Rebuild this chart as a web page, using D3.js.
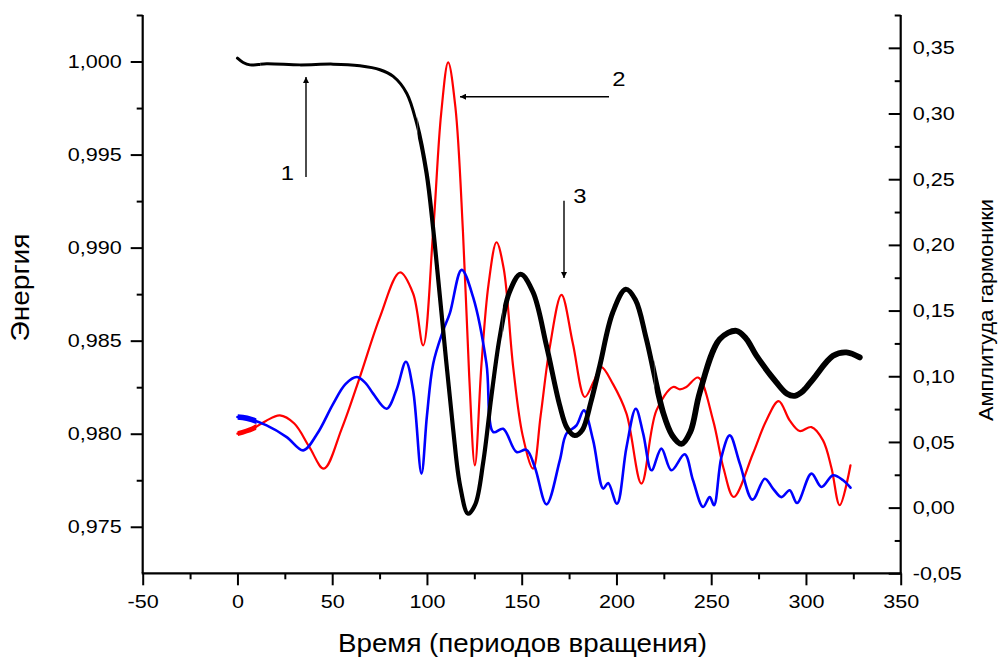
<!DOCTYPE html>
<html><head><meta charset="utf-8">
<script src="https://cdn.jsdelivr.net/npm/d3@7"></script>
<style>
html,body{margin:0;padding:0;background:#fff;}
svg{display:block;font-family:"Liberation Sans",Arial,sans-serif;}
</style></head>
<body><svg id="c" width="998" height="657"></svg>
<script>
// ---- data ----
const blackT = [0, 3, 6.6, 15.4, 33, 50.5, 64.6, 75.2, 82.2, 89.3, 94.5, 99.8, 103.3, 106.8, 113.8, 117.5, 121.7, 125.5, 129.7, 134, 138.5, 143.5, 149.4, 156, 163.1, 170.1, 174, 178, 182, 186.5, 191.2, 198, 204.9, 210, 215.8, 224.6, 229.5, 234.3, 239, 244, 254.5, 263.3, 268.5, 273.9, 284.4, 290, 294.1, 298.5, 303.8, 314.3, 321.4, 328.4];
const blackE = [1.00018, 0.99995, 0.99982, 0.99988, 0.99982, 0.99986, 0.99977, 0.99956, 0.9992, 0.9983, 0.9967, 0.9940, 0.9910, 0.98740, 0.98026, 0.97720, 0.97570, 0.97620, 0.97847, 0.98200, 0.98526, 0.98760, 0.98857, 0.98760, 0.98472, 0.98151, 0.98030, 0.97990, 0.98020, 0.98170, 0.98365, 0.98650, 0.98776, 0.98720, 0.98508, 0.98115, 0.97990, 0.97945, 0.98010, 0.98223, 0.98508, 0.98553, 0.98510, 0.98419, 0.98276, 0.98215, 0.98204, 0.98230, 0.98294, 0.98419, 0.98437, 0.98410];

const redT = [0, 8, 15, 22.4, 30, 38, 45.6, 55, 64.6, 75.2, 85.7, 92.7, 98, 103.3, 107.5, 111.2, 115, 119, 122.3, 125.3, 128.8, 132.5, 136.7, 140.5, 145.5, 150.5, 156, 160, 164.8, 171, 177, 183.3, 188, 192, 198.2, 205.3, 213.2, 221.1, 229.9, 233.5, 236.9, 243.1, 251, 256.5, 261.9, 272, 279.1, 285.6, 291.4, 296.7, 302.9, 309, 313.5, 317.8, 323.5];
const redA = [0.0563, 0.0600, 0.0660, 0.0702, 0.0640, 0.0460, 0.0297, 0.0600, 0.0994, 0.1450, 0.1790, 0.1630, 0.1235, 0.2110, 0.3000, 0.3390, 0.3050, 0.2100, 0.1000, 0.0322, 0.1096, 0.1700, 0.2020, 0.1820, 0.1070, 0.0550, 0.0297, 0.0700, 0.1220, 0.1620, 0.1250, 0.0842, 0.0960, 0.1070, 0.0940, 0.0715, 0.0183, 0.0740, 0.0918, 0.0900, 0.0918, 0.0990, 0.0664, 0.0300, 0.0081, 0.0410, 0.0664, 0.0811, 0.0664, 0.0583, 0.0613, 0.0512, 0.0300, 0.0018, 0.0322];

const blueT = [0, 5, 15.4, 26, 34.7, 42, 50.5, 57, 62.9, 67.5, 71.6, 78.7, 84, 88.9, 92.7, 97.1, 100, 103.3, 108.6, 112.1, 118.3, 124.4, 131.4, 135, 140.2, 147.3, 152.5, 156.9, 163.1, 170.1, 173.6, 178.9, 182.8, 187.7, 193, 195.6, 200.3, 205.3, 210.2, 214.1, 218.5, 223.7, 229, 236, 240.4, 245.7, 249.2, 251.5, 255.4, 259.8, 265.1, 271.8, 278.3, 282.6, 287.1, 291.4, 295.3, 302.9, 308.2, 314.3, 319.6, 323.5];
const blueA = [0.0690, 0.0680, 0.0626, 0.0537, 0.0436, 0.0560, 0.0790, 0.0940, 0.0994, 0.0950, 0.0868, 0.0753, 0.0900, 0.1110, 0.0893, 0.0259, 0.0700, 0.1096, 0.1350, 0.1480, 0.1810, 0.1600, 0.1096, 0.0575, 0.0600, 0.0423, 0.0440, 0.0310, 0.0025, 0.0360, 0.0563, 0.0626, 0.0740, 0.0512, 0.0145, 0.0187, 0.0030, 0.0460, 0.0753, 0.0563, 0.0284, 0.0449, 0.0284, 0.0406, 0.0208, 0.0005, 0.0080, 0.0018, 0.0385, 0.0550, 0.0335, 0.0061, 0.0220, 0.0145, 0.0080, 0.0132, 0.0035, 0.0259, 0.0157, 0.0246, 0.0208, 0.0152];

const xTicks = [-50, 0, 50, 100, 150, 200, 250, 300, 350];
const leftTicks = [0.975, 0.980, 0.985, 0.990, 0.995, 1.000];
const rightTicks = [-0.05, 0, 0.05, 0.10, 0.15, 0.20, 0.25, 0.30, 0.35];

// ---- layout ----
const svg = d3.select("#c");
const L = 142.7, R = 900.7, T = 15, B = 573.3;
const x = d3.scaleLinear().domain([-50, 350]).range([L, R]);
const yL = d3.scaleLinear().domain([0.9725, 1.0025]).range([B, T]);
const yR = d3.scaleLinear().domain([-0.05, 0.375]).range([B, T]);
const comma = f => v => d3.format(f)(v).replace(".", ",").replace("−", "-");
const fs = 19;
const STRETCH = 1.135;
const stretch = sel => sel.each(function () { const w = this.getComputedTextLength(); d3.select(this).attr("textLength", w * STRETCH).attr("lengthAdjust", "spacingAndGlyphs"); });

// clip regions (by time) for line width variation
const defs = svg.append("defs");
const clip = (id, t0, t1) => defs.append("clipPath").attr("id", id).append("rect").attr("x", x(t0)).attr("width", x(t1) - x(t0)).attr("y", 0).attr("height", 657);
clip("n0", 0, 10); clip("c0", -5, 12); clip("c1", 12, 95); clip("c2", 95, 140); clip("c3", 140, 220); clip("c4", 220, 340);

const mk = (xs, ys, sc) => xs.map((t, i) => [x(t), sc(ys[i])]);
const line = d3.line().curve(d3.curveCatmullRom.alpha(0.5));
const draw = (d, col, w, cp, cap) => { const p = svg.append("path").attr("d", d).attr("fill", "none").attr("stroke", col).attr("stroke-width", w).attr("stroke-linejoin", "round").attr("stroke-linecap", cap || "round"); if (cp) p.attr("clip-path", `url(#${cp})`); return p; };

const redD = line(mk(redT, redA, yR));
const blueD = line(mk(blueT, blueA, yR));
const blackD = line(mk(blackT, blackE, yL));
draw(redD, "#ff0000", 2.2);
draw(redD, "#ff0000", 5, "n0", "butt");
draw(blueD, "#0000ff", 2.6);
draw(blueD, "#0000ff", 5.5, "n0", "butt");
draw(blackD, "#000", 3, "c0");
draw(blackD, "#000", 3, "c1");
draw(blackD, "#000", 4.2, "c2");
draw(blackD, "#000", 5, "c3");
draw(blackD, "#000", 5.8, "c4");

// axes
const axStyle = g => { g.select(".domain").remove(); g.selectAll("line").attr("stroke", "#000").attr("stroke-width", 2); g.selectAll("text").attr("fill", "#000").style("font-size", fs + "px").style("font-family", '"Liberation Sans",Arial,sans-serif'); };
// bottom
const minorX = d3.range(-25, 350, 50);
svg.append("g").attr("transform", `translate(0,${B})`).call(d3.axisBottom(x).tickValues(minorX).tickSize(6).tickFormat("")).call(axStyle);
const gB = svg.append("g").attr("transform", `translate(0,${B})`).call(d3.axisBottom(x).tickValues(xTicks).tickSize(12).tickPadding(9).tickFormat(comma("d"))).call(axStyle);
// left
const minorL = d3.range(0.9775, 1.003, 0.005);
svg.append("g").attr("transform", `translate(${L},0)`).call(d3.axisLeft(yL).tickValues(minorL).tickSize(6).tickFormat("")).call(axStyle);
const gL = svg.append("g").attr("transform", `translate(${L},0)`).call(d3.axisLeft(yL).tickValues(leftTicks).tickSize(12).tickPadding(9).tickFormat(comma(".3f"))).call(axStyle);
// right (ticks pointing inward, labels outside)
const minorR = d3.range(-0.025, 0.38, 0.05);
svg.append("g").attr("transform", `translate(${R},0)`).call(d3.axisLeft(yR).tickValues(minorR).tickSize(6).tickFormat("")).call(axStyle);
const gR = svg.append("g").attr("transform", `translate(${R},0)`).call(d3.axisLeft(yR).tickValues(rightTicks).tickSize(12).tickFormat(comma(".2f"))).call(axStyle);
gR.selectAll("text").attr("x", 12).attr("text-anchor", "start");
stretch(gB.selectAll("text")); stretch(gL.selectAll("text")); stretch(gR.selectAll("text"));
// axis lines
svg.append("line").attr("x1", L).attr("x2", L).attr("y1", T).attr("y2", B).attr("stroke", "#000").attr("stroke-width", 2.2);
svg.append("line").attr("x1", R).attr("x2", R).attr("y1", T).attr("y2", B).attr("stroke", "#000").attr("stroke-width", 2.2);
svg.append("line").attr("x1", L - 1).attr("x2", R + 1).attr("y1", B).attr("y2", B).attr("stroke", "#000").attr("stroke-width", 2.2);

// titles
svg.append("text").attr("transform", "translate(29,287.5) rotate(-90)").attr("text-anchor", "middle").style("font-size", "25px").attr("textLength", 108).attr("lengthAdjust", "spacingAndGlyphs").text("Энергия");
svg.append("text").attr("x", 522.5).attr("y", 652).attr("text-anchor", "middle").style("font-size", "25.5px").attr("textLength", 369).attr("lengthAdjust", "spacingAndGlyphs").text("Время (периодов вращения)");
svg.append("text").attr("transform", "translate(993,310) rotate(-90)").attr("text-anchor", "middle").style("font-size", "20px").attr("textLength", 222).attr("lengthAdjust", "spacingAndGlyphs").text("Амплитуда гармоники");

// annotations
defs.append("marker").attr("id", "ah").attr("viewBox", "0 0 10 10").attr("refX", 10).attr("refY", 5).attr("markerWidth", 8).attr("markerHeight", 6).attr("markerUnits", "userSpaceOnUse").attr("orient", "auto")
  .append("path").attr("d", "M0,0 L10,5 L0,10 Z").attr("fill", "#000");
const arrow = (x1, y1, x2, y2) => svg.append("line").attr("x1", x1).attr("y1", y1).attr("x2", x2).attr("y2", y2).attr("stroke", "#000").attr("stroke-width", 1.4).attr("marker-end", "url(#ah)");
arrow(306, 177, 306, 77);
arrow(609, 96.7, 460, 96.7);
arrow(564, 200.7, 564, 278);
const lbl = (x0, y0, s) => stretch(svg.append("text").attr("x", x0).attr("y", y0).attr("text-anchor", "middle").style("font-size", "21px").text(s));
lbl(287.3, 180, "1");
lbl(619, 86, "2");
lbl(580, 203, "3");
</script></body></html>
